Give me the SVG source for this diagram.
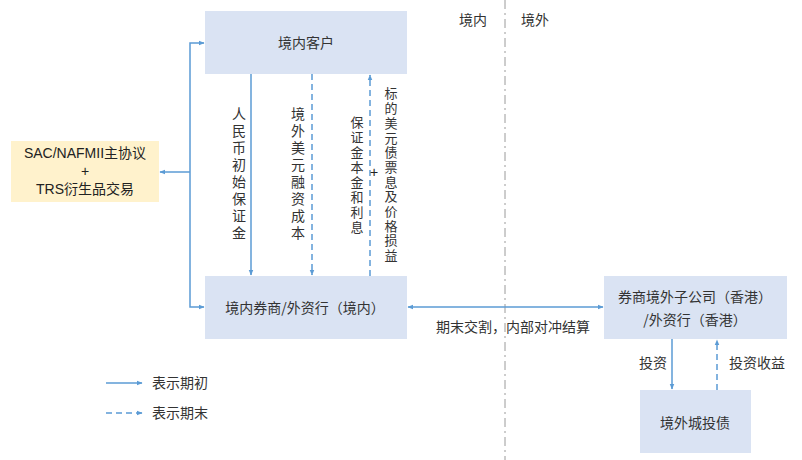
<svg xmlns="http://www.w3.org/2000/svg" width="802" height="460" viewBox="0 0 802 460">
<style>
.box{fill:#dae3f3;}
.ybox{fill:#fff2cc;}
.t{font-family:"Noto Sans CJK SC","Liberation Sans",sans-serif;fill:#333;font-size:14px;}
.lat{font-family:"Liberation Sans","Noto Sans CJK SC",sans-serif;fill:#222;font-size:14px;}
.v{font-family:"Noto Sans CJK SC",sans-serif;fill:#333;writing-mode:vertical-rl;text-orientation:upright;}
.ln{stroke:#5b9bd5;stroke-width:1.5;fill:none;}
.dash{stroke-dasharray:6 4;}
.div{stroke:#9a9a9a;stroke-width:1;stroke-dasharray:9 4 2 4;fill:none;}
</style>
<defs>
<marker id="ah" viewBox="0 0 10 10" refX="9" refY="5" markerWidth="6" markerHeight="6" orient="auto-start-reverse" markerUnits="userSpaceOnUse">
<path d="M0,1 L10,5 L0,9 z" fill="#5b9bd5"/>
</marker>
</defs>
<rect width="802" height="460" fill="#fff"/>
<g id="divider">
<line class="div" x1="505" y1="0" x2="505" y2="460"/>
<text class="t" x="473" y="25" text-anchor="middle">境内</text>
<text class="t" x="535" y="25" text-anchor="middle">境外</text>
</g>
<g id="connectors">
<polyline class="ln" points="160,172 190,172" marker-start="url(#ah)"/>
<polyline class="ln" points="204,43 190,43 190,307 204,307" marker-start="url(#ah)" marker-end="url(#ah)"/>
<line class="ln" x1="251" y1="74" x2="251" y2="275" marker-end="url(#ah)"/>
<line class="ln dash" x1="312" y1="74" x2="312" y2="275" marker-end="url(#ah)"/>
<line class="ln dash" x1="370" y1="276" x2="370" y2="75" marker-end="url(#ah)"/>
<line class="ln" x1="408" y1="307" x2="603" y2="307" marker-start="url(#ah)" marker-end="url(#ah)"/>
<line class="ln" x1="672" y1="339" x2="672" y2="389" marker-end="url(#ah)"/>
<line class="ln dash" x1="717" y1="390" x2="717" y2="340" marker-end="url(#ah)"/>
<text class="v" x="239" y="107" font-size="14" letter-spacing="3">人民币初始保证金</text>
<text class="v" x="298" y="107" font-size="14" letter-spacing="3">境外美元融资成本</text>
<text class="v" x="357" y="116" font-size="13" letter-spacing="2">保证金本金和利息</text>
<text class="v" x="391" y="87" font-size="13" letter-spacing="1.7">标的美元债票息及价格损益</text>
<text class="lat" x="374" y="177" font-size="10" text-anchor="middle">+</text>
<text class="t" x="513" y="332" text-anchor="middle" font-size="13">期末交割，内部对冲结算</text>
<text class="t" x="653" y="368" text-anchor="middle" font-size="13">投资</text>
<text class="t" x="757" y="368" text-anchor="middle" font-size="13">投资收益</text>
</g>
<g id="n-client">
<rect class="box" x="205" y="11" width="202" height="63"/>
<text class="t" x="306" y="48" text-anchor="middle" font-size="15">境内客户</text>
</g>
<g id="n-agreement">
<rect class="ybox" x="11" y="141" width="148" height="61"/>
<text class="lat" x="85" y="158" text-anchor="middle" font-size="13.5">SAC/NAFMII<tspan font-family="Noto Sans CJK SC">主协议</tspan></text>
<text class="lat" x="85" y="176" text-anchor="middle" font-size="13.5">+</text>
<text class="lat" x="85" y="194" text-anchor="middle" font-size="13.5">TRS<tspan font-family="Noto Sans CJK SC">衍生品交易</tspan></text>
</g>
<g id="n-broker">
<rect class="box" x="205" y="276" width="202" height="63"/>
<text class="t" x="305" y="313" text-anchor="middle" font-size="15">境内券商/外资行（境内）</text>
</g>
<g id="n-hk">
<rect class="box" x="604" y="276" width="183" height="63"/>
<text class="t" x="695" y="302" text-anchor="middle" font-size="14">券商境外子公司（香港）</text>
<text class="t" x="695" y="325" text-anchor="middle" font-size="14">/外资行（香港）</text>
</g>
<g id="n-bond">
<rect class="box" x="640" y="390" width="111" height="63"/>
<text class="t" x="695" y="428" text-anchor="middle" font-size="14">境外城投债</text>
</g>
<g id="legend">
<line class="ln" x1="106" y1="383" x2="142" y2="383" marker-end="url(#ah)"/>
<text class="t" x="152" y="388" font-size="13">表示期初</text>
<line class="ln dash" x1="106" y1="413" x2="142" y2="413" marker-end="url(#ah)"/>
<text class="t" x="152" y="418" font-size="13">表示期末</text>
</g>
</svg>
